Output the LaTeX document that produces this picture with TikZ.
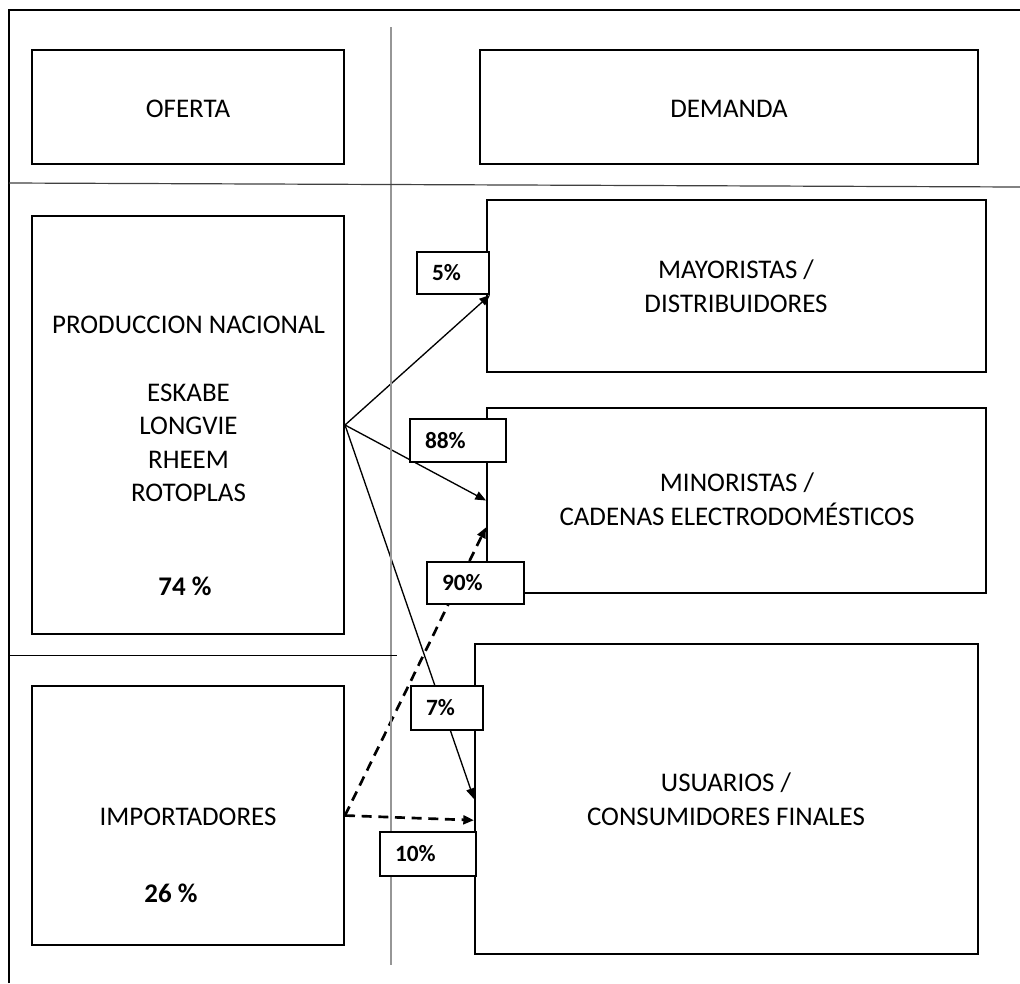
\documentclass[tikz,border=0pt]{standalone}
\usepackage{fontspec}
\setmainfont{Carlito}
\usetikzlibrary{arrows.meta,fit,calc}
\pgfdeclarelayer{bg}
\pgfdeclarelayer{back}
\pgfsetlayers{bg,back,main}
\begin{document}
\begin{tikzpicture}[x=0.75pt,y=-0.75pt,
  mainbox/.style={draw=black, line width=1.5pt, inner sep=0pt},
  txt/.style={inner sep=0pt, anchor=base, align=center, font=\fontsize{20.2pt}{25.1pt}\selectfont},
  txtb/.style={txt, font=\fontsize{20.2pt}{25.1pt}\selectfont\bfseries},
  pct/.style={draw=black, line width=1.5pt, fill=white, anchor=west, inner xsep=11.25pt, inner ysep=0pt, align=left, font=\fontsize{17.5pt}{21pt}\selectfont\bfseries},
  flow/.style={line width=1pt, -{Triangle[length=8pt,width=6.5pt]}},
  flowd/.style={line width=2pt, dash pattern=on 7.5pt off 5pt, -{Triangle[length=8pt,width=6.5pt]}},
  frame/.style={line width=1.6pt, black},
  grayline/.style={line width=1.3pt, color={rgb,255:red,150;green,150;blue,150}}
]
\useasboundingbox (0,0) rectangle (1020,983);
\begin{pgfonlayer}{bg}
\fill[white] (0,0) rectangle (1020,983);
\end{pgfonlayer}

% frame and separators
\draw[frame] (9,983) -- (9,10) -- (1020,10);
\draw[grayline] (391,27) -- (391,965);
\draw[line width=0.9pt, black!75] (9,183) -- (1020,187);
\draw[line width=0.75pt, black] (9,655) -- (397,655);

% boxes
\node[mainbox, fit={(32,50) (344,164)}] (ofe) {};
\node[mainbox, fit={(480,50) (978,164)}] (dem) {};
\node[mainbox, fit={(32,216) (344,634)}] (prod) {};
\node[mainbox, fit={(32,686) (344,945)}] (imp) {};
\node[mainbox, fit={(487,200) (986,372)}] (may) {};
\node[mainbox, fit={(487,408) (986,593)}] (min) {};
\node[mainbox, fit={(475,644) (978,954)}] (usu) {};

% texts (base anchor = baseline of last line)
\node[txt] (tofe) at (188,117) {OFERTA};
\node[txt] (tdem) at (729,117) {DEMANDA};
\node[txt] (tprod) at (188.5,333) {PRODUCCION NACIONAL};
\node[txt] (tbrands) at (188.5,501.5) {ESKABE\\LONGVIE\\RHEEM\\ROTOPLAS};
\node[txtb] (t74) at (185,595) {74 \%};
\node[txt] (timp) at (188,825) {IMPORTADORES};
\node[txtb] (t26) at (171,902) {26 \%};
\node[txt] (tmay) at (736,312) {MAYORISTAS /\\DISTRIBUIDORES};
\node[txt] (tmin) at (737,525) {MINORISTAS /\\CADENAS ELECTRODOMÉSTICOS};
\node[txt] (tusu) at (726,825) {USUARIOS /\\CONSUMIDORES FINALES};

% percentage labels
\node[pct, text width=31.5pt, minimum height=31.5pt] (l5) at (416,273) {5\%};
\node[pct, text width=49.5pt, minimum height=32.25pt] (l88) at (409,440.5) {88\%};
\node[pct, text width=50.25pt, minimum height=31.5pt] (l90) at (426,583) {90\%};
\node[pct, text width=31.5pt, minimum height=33pt] (l7) at (410,708) {7\%};
\node[pct, text width=49.5pt, minimum height=33pt] (l10) at (379,854) {10\%};

% connectors
\begin{pgfonlayer}{back}
\draw[flow] (prod.east) -- (l5.south east);
\draw[flow] (prod.east) -- (min.west);
\draw[flow] (prod.east) -- (usu.west);
\draw[flowd] (imp.east) -- ($(min.north west)!0.643!(min.south west)$);
\draw[flowd] (imp.east) -- ($(usu.north west)!0.568!(usu.south west)$);
\end{pgfonlayer}
\end{tikzpicture}
\end{document}
